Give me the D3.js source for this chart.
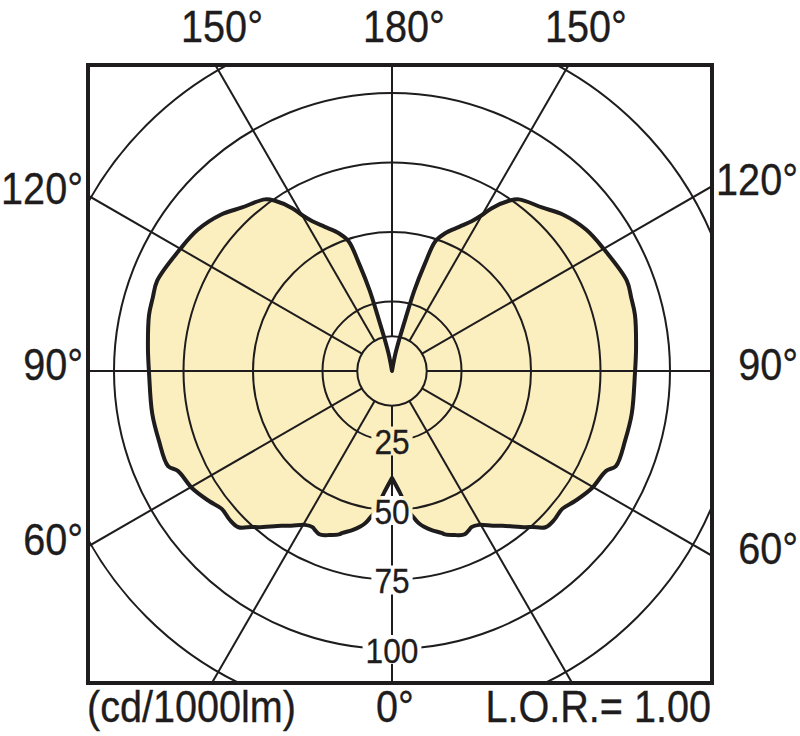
<!DOCTYPE html>
<html><head><meta charset="utf-8">
<script src="https://cdn.jsdelivr.net/npm/d3@7"></script>
<style>html,body{margin:0;padding:0;background:#fff}</style>
</head><body>
<svg id="c" width="800" height="736"></svg>
<script>
// ---- data (right half; left half is the mirror image) ----
const angles = [0, 3.5, 7, 9, 10, 11.5, 14, 17, 18, 21, 22, 24, 26, 27, 29.5, 33, 35.5, 40.5, 42, 44.5, 47.5, 51, 54.5, 59.5, 65, 67, 73.5, 80, 89.5, 95.5, 103, 107, 111, 120, 126, 132.5, 137.5, 143.5, 145.5, 148.5, 150, 152, 155, 159, 161.5, 163, 164.5, 165.5, 167, 169, 180];
const intensity = [38.5, 43.5, 51, 54.2, 55.6, 57.1, 59, 60.9, 61.8, 63.2, 63.7, 64.3, 63.5, 63, 63.6, 66.4, 68.4, 73.9, 75.5, 78.8, 79.2, 78.8, 80.7, 83.3, 85, 87.5, 87.5, 87.6, 87.4, 88.2, 89.7, 90, 90.5, 87.9, 86.4, 83.3, 79.8, 76.8, 74.3, 68.7, 64.8, 61, 57.2, 53, 49.2, 40, 30, 20, 12, 6, 0];
const gridCircles = [12.5, 25, 50, 75, 100, 125];
const radialTicks = [25, 50, 75, 100];
const spokeAngles = [0, 30, 60, 90, 120, 150, 180, 210, 240, 270, 300, 330];
const topLabelAngles = [-150, 180, 150];
const sideLabelAngles = [-120, -90, -60, 120, 90, 60];
const unitLabel = "(cd/1000lm)";
const zeroLabel = "0°";
const lorLabel = "L.O.R.= 1.00";

// ---- layout ----
const W = 800, H = 736;
const cx = 392, cy = 371;
const frame = {x0: 88, y0: 65, x1: 712, y1: 683};
const r = d3.scaleLinear().domain([0, 100]).range([0, 278]);
const rad = d => d * Math.PI / 180;
const ink = "#1e1c1c";
const fillCol = "#fbeebf";
const font = "'Liberation Sans', Arial, Helvetica, sans-serif";
const sx = 0.9;

const svg = d3.select("#c");
svg.append("rect").attr("width", W).attr("height", H).attr("fill", "#fff");
const defs = svg.append("defs");
defs.append("clipPath").attr("id", "fr").append("rect")
  .attr("x", frame.x0).attr("y", frame.y0)
  .attr("width", frame.x1 - frame.x0).attr("height", frame.y1 - frame.y0);

const g = svg.append("g").attr("transform", `translate(${cx},${cy})`);

// ---- shape ----
const pts = angles.map((a, i) => [Math.PI - rad(a), r(intensity[i])])
  .concat(angles.slice().reverse().map((a, i) => [Math.PI + rad(a), r(intensity[angles.length - 1 - i])]));
const radial = d3.lineRadial().angle(d => d[0]).radius(d => d[1]).curve(d3.curveCatmullRomClosed.alpha(0.5));
g.append("path").attr("d", radial(pts)).attr("fill", fillCol).attr("stroke", "none");

// ---- inner tick labels ----
const labG = g.append("g");
const tickTexts = labG.selectAll("text").data(radialTicks).join("text")
  .attr("x", 0).attr("y", 0)
  .attr("dy", "0.36em")
  .attr("text-anchor", "middle")
  .attr("font-family", font).attr("font-size", 36)
  .attr("fill", ink).attr("stroke", ink).attr("stroke-width", 0.3)
  .attr("transform", d => `translate(0,${r(d) + 1}) scale(0.88,1)`)
  .text(d => d);

// mask cut-outs around the inner labels
const mask = defs.append("mask").attr("id", "lm").attr("maskUnits", "userSpaceOnUse")
  .attr("x", -cx).attr("y", -cy).attr("width", W).attr("height", H);
mask.append("rect").attr("x", -cx).attr("y", -cy).attr("width", W).attr("height", H).attr("fill", "#fff");
tickTexts.each(function(d) {
  const b = this.getBBox();
  const w = b.width * 0.88;
  mask.append("rect").attr("x", -w / 2 - 3).attr("y", r(d) - 14).attr("width", w + 6).attr("height", 29).attr("fill", "#000");
});

// ---- grid ----
const grid = svg.append("g").attr("clip-path", "url(#fr)")
  .append("g").attr("transform", `translate(${cx},${cy})`).attr("mask", "url(#lm)");
grid.selectAll("circle").data(gridCircles).join("circle")
  .attr("r", d => r(d)).attr("fill", "none").attr("stroke", ink).attr("stroke-width", 2);
grid.selectAll("line").data(spokeAngles).join("line")
  .attr("x1", d => r(12.5) * Math.sin(rad(d))).attr("y1", d => r(12.5) * Math.cos(rad(d)))
  .attr("x2", d => r(200) * Math.sin(rad(d))).attr("y2", d => r(200) * Math.cos(rad(d)))
  .attr("stroke", ink).attr("stroke-width", 2);

// ---- outline ----
g.append("path").attr("d", radial(pts)).attr("fill", "none")
  .attr("stroke", ink).attr("stroke-width", 4).attr("stroke-linejoin", "round")
  .attr("mask", "url(#lm)");
labG.raise();

// ---- frame ----
svg.append("rect").attr("x", frame.x0).attr("y", frame.y0)
  .attr("width", frame.x1 - frame.x0).attr("height", frame.y1 - frame.y0)
  .attr("fill", "none").attr("stroke", ink).attr("stroke-width", 4);

// ---- outer labels ----
function addText(x, y, txt, anchor) {
  svg.append("text").attr("x", 0).attr("y", 0)
    .attr("transform", `translate(${x},${y}) scale(${sx},1)`)
    .attr("text-anchor", anchor)
    .attr("font-family", font).attr("font-size", 44).attr("fill", ink)
    .attr("stroke", ink).attr("stroke-width", 0.35)
    .text(txt);
}
topLabelAngles.forEach(a => {
  const dx = Math.sin(rad(a)), dy = Math.cos(rad(a));
  const t = (frame.y0 - cy) / dy;
  addText(cx + 12 + t * dx * 1.03, 42, Math.abs(a) + "°", "middle");
});
sideLabelAngles.forEach(a => {
  const dx = Math.sin(rad(a)), dy = Math.cos(rad(a));
  const left = a < 0;
  const t = ((left ? frame.x0 : frame.x1) - cx) / dx;
  const y = cy + t * dy - 7 + 15.5;
  if (left) addText(frame.x0 - 5, y, Math.abs(a) + "°", "end");
  else addText(W - 2, y, Math.abs(a) + "°", "end");
});
addText(frame.x0 - 1, 722, unitLabel, "start");
addText(cx + 3, 722, zeroLabel, "middle");
addText(frame.x1 - 1, 722, lorLabel, "end");
</script>
</body></html>
